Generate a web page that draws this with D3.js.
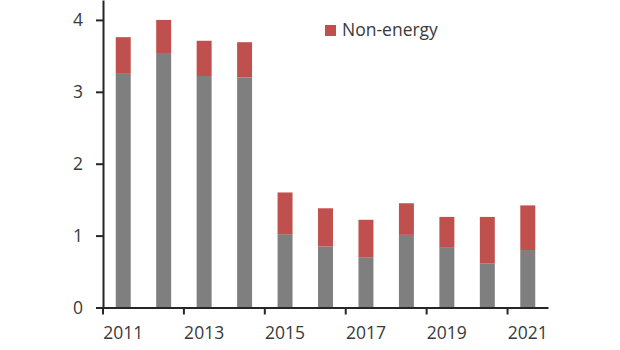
<!DOCTYPE html>
<html>
<head>
<meta charset="utf-8">
<script src="https://cdn.jsdelivr.net/npm/d3@7"></script>
<style>
  html, body { margin: 0; padding: 0; background: #fff; }
  svg { display: block; font-family: "Open Sans", "Noto Sans", sans-serif; }
</style>
</head>
<body>
<svg id="chart" width="620" height="350"></svg>
<script>
// Annual values, split into energy (grey) and non-energy (red) parts
const years = ["2011","2012","2013","2014","2015","2016","2017","2018","2019","2020","2021"];
const energy = [3.25, 3.54, 3.22, 3.20, 1.02, 0.85, 0.70, 1.01, 0.84, 0.61, 0.80];
const nonEnergy = [0.51, 0.46, 0.49, 0.49, 0.58, 0.53, 0.52, 0.44, 0.42, 0.65, 0.62];
const yTicks = [0, 1, 2, 3, 4];
const xLabels = ["2011","2013","2015","2017","2019","2021"];
const legendLabel = "Non-energy";

const colors = { energy: "#7f7f7f", nonEnergy: "#c0504d", axis: "#262626", text: "#3a3a3a" };
const fontSize = "17.5px";

(function () {
  const svg = d3.select("#chart");
  const plotLeft = 103, plotRight = 548, plotBottom = 307.5, plotTop = 0;

  const x = d3.scaleBand().domain(years).range([plotLeft, plotRight])
    .paddingInner(0.63).paddingOuter(0.315);
  const step = x.step();
  const y = d3.scaleLinear().domain([0, 4.277]).range([plotBottom, plotTop]);

  const rows = years.map((yr, i) => ({ year: yr, energy: energy[i], nonEnergy: nonEnergy[i] }));
  const stacked = d3.stack().keys(["energy", "nonEnergy"])(rows);

  svg.append("g").selectAll("g").data(stacked).join("g")
    .attr("fill", d => colors[d.key])
    .selectAll("rect").data(d => d).join("rect")
    .attr("x", d => x(d.data.year))
    .attr("width", x.bandwidth())
    .attr("y", d => y(d[1]))
    .attr("height", d => y(d[0]) - y(d[1]));

  // Y axis
  const yAxis = svg.append("g").attr("transform", `translate(${plotLeft},0)`)
    .call(d3.axisLeft(y).tickValues(yTicks).tickFormat(d3.format("d")).tickSize(7).tickPadding(13).tickSizeOuter(0));
  yAxis.select(".domain").attr("stroke", colors.axis).attr("stroke-width", 2);
  yAxis.selectAll(".tick line").attr("stroke", colors.axis).attr("stroke-width", 2);
  yAxis.selectAll(".tick text").attr("fill", colors.text).style("font-size", fontSize).style("font-family", "'Open Sans', sans-serif");

  // X axis: labels under odd years, tick marks on the left edge of those slots
  const xAxis = svg.append("g").attr("transform", `translate(0,${plotBottom})`)
    .call(d3.axisBottom(x).tickValues(xLabels).tickSize(0).tickPadding(19).tickSizeOuter(0));
  xAxis.select(".domain").attr("stroke", colors.axis).attr("stroke-width", 2);
  xAxis.selectAll(".tick text").attr("fill", colors.text).style("font-size", fontSize).style("font-family", "'Open Sans', sans-serif");
  xAxis.selectAll(".tick").append("line")
    .attr("x1", -step / 2).attr("x2", -step / 2)
    .attr("y1", 0).attr("y2", 7)
    .attr("stroke", colors.axis).attr("stroke-width", 2);

  // Legend
  const legend = svg.append("g").attr("transform", "translate(325,25)");
  legend.append("rect").attr("width", 11).attr("height", 11).attr("fill", colors.nonEnergy);
  legend.append("text").attr("x", 17).attr("y", 11).attr("fill", colors.text)
    .style("font-size", fontSize).text(legendLabel);
})();
</script>
</body>
</html>
